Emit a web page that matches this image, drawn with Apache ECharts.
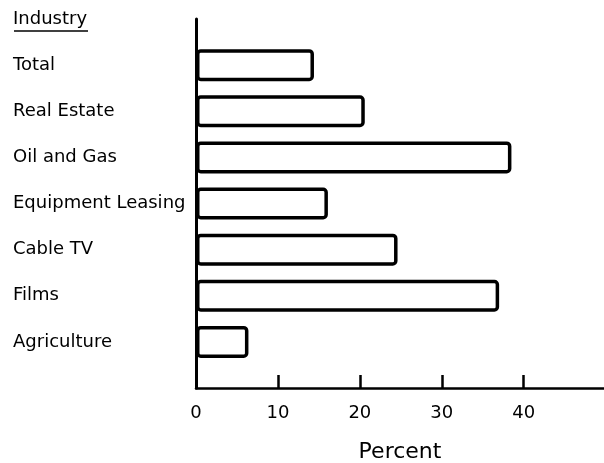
<!DOCTYPE html>
<html><head><meta charset="utf-8">
<script src="https://cdn.jsdelivr.net/npm/echarts@6/dist/echarts.min.js"></script>
<style>html,body{margin:0;padding:0;background:#fff}#c{width:604px;height:463px}</style>
</head><body><div id="c"></div>
<script>
const header = 'Industry';
const categories = ['Agriculture', 'Films', 'Cable TV', 'Equipment Leasing', 'Oil and Gas', 'Real Estate', 'Total'];
const percentValues = [6.4, 37.0, 24.6, 16.1, 38.5, 20.6, 14.4];
const tickValues = [0, 10, 20, 30, 40];
const axisName = 'Percent';

const yData = [''].concat(categories, [header]);
const barData = [null].concat(percentValues, [null]);
const FONT = 'DejaVu Sans';

const chart = echarts.init(document.getElementById('c'), null, {renderer: 'canvas'});
chart.setOption({
  animation: false,
  backgroundColor: '#fff',
  grid: {left: 196, right: 0, top: 19, bottom: 75, containLabel: false, outerBoundsMode: 'none'},
  xAxis: {
    type: 'value', min: 0, max: 49.8, interval: 10,
    axisLine: {show: true, lineStyle: {color: '#000', width: 2.5}},
    axisTick: {show: true, inside: true, length: 13, customValues: tickValues.slice(1),
      lineStyle: {color: '#000', width: 2.5}},
    splitLine: {show: false},
    axisLabel: {
      color: '#000', fontFamily: FONT, fontSize: 18, margin: 16,
      customValues: tickValues
    },
    name: axisName, nameLocation: 'middle', nameGap: 53,
    nameTextStyle: {color: '#000', fontFamily: FONT, fontSize: 22}
  },
  yAxis: {
    type: 'category', data: yData, boundaryGap: false,
    axisLine: {show: true, onZero: false, lineStyle: {color: '#000', width: 3}},
    axisTick: {show: false},
    splitLine: {show: false},
    axisLabel: {
      interval: 0, align: 'left', margin: 183,
      color: '#000', fontFamily: FONT, fontSize: 18
    }
  },
  graphic: [{
    type: 'line', shape: {x1: 14, y1: 31, x2: 88, y2: 31},
    style: {stroke: '#000', lineWidth: 1.5}
  }],
  series: [{
    type: 'bar', data: barData, barWidth: 32,
    itemStyle: {color: '#fff', borderColor: '#000', borderWidth: 3.5, borderRadius: 3},
    silent: true
  }]
});
</script></body></html>
